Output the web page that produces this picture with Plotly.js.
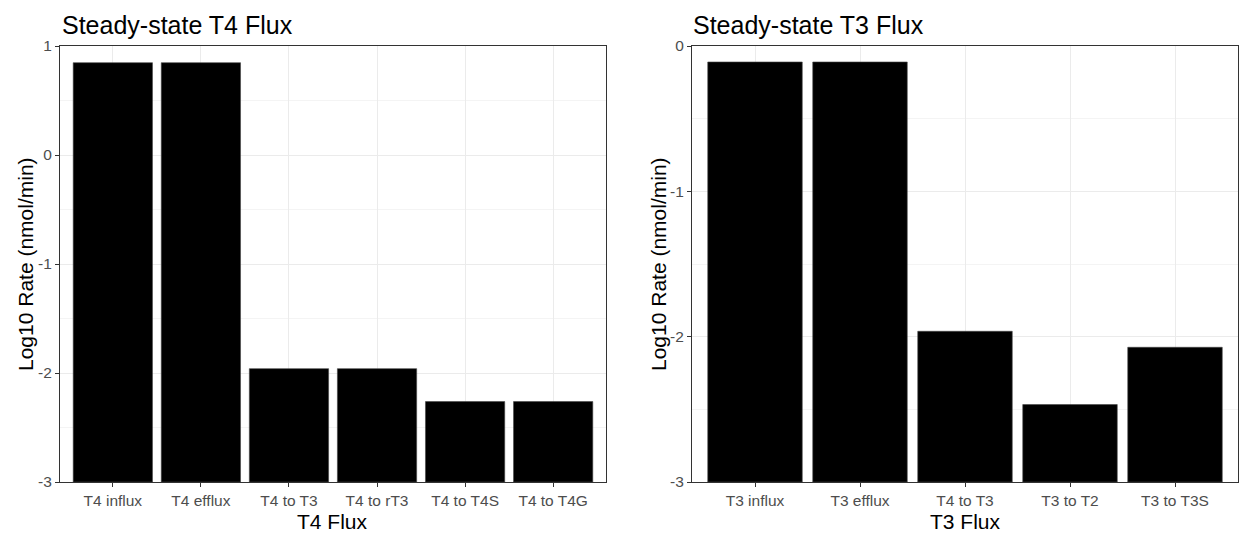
<!DOCTYPE html>
<html><head><meta charset="utf-8">
<script src="https://cdn.plot.ly/plotly-3.0.1.min.js"></script>
<style>html,body{margin:0;padding:0;background:#fff}#chart{width:1239px;height:533px}</style>
</head><body><div id="chart"></div>
<script>
const t4Categories = ["T4 influx","T4 efflux","T4 to T3","T4 to rT3","T4 to T4S","T4 to T4G"];
const t4Log10Rate = [0.847, 0.847, -1.96, -1.96, -2.262, -2.262];
const t3Categories = ["T3 influx","T3 efflux","T4 to T3","T3 to T2","T3 to T3S"];
const t3Log10Rate = [-0.11, -0.11, -1.963, -2.467, -2.073];
const t4Ticks = [1, 0, -1, -2, -3];
const t3Ticks = [0, -1, -2, -3];
const axisFloor = -3;

const FONT = "Liberation Sans, Arial, sans-serif";
const tickFont = {family: FONT, size: 15.5, color: "#4d4d4d"};
const titleFont = {family: FONT, size: 21, color: "#000"};

const traces = [
  {type: "bar", x: t4Categories, y: t4Log10Rate.map(v => v - axisFloor), base: axisFloor,
   marker: {color: "#000", line: {color: "#444", width: 0.6}}, width: 0.9, xaxis: "x", yaxis: "y", hoverinfo: "x+text",
   text: t4Log10Rate.map(String), textposition: "none"},
  {type: "bar", x: t3Categories, y: t3Log10Rate.map(v => v - axisFloor), base: axisFloor,
   marker: {color: "#000", line: {color: "#444", width: 0.6}}, width: 0.9, xaxis: "x2", yaxis: "y2", hoverinfo: "x+text",
   text: t3Log10Rate.map(String), textposition: "none"}
];

function xax(domain, cats) {
  return {domain: domain, range: [-0.6, cats.length - 0.4], type: "category",
    showgrid: true, gridcolor: "#ebebeb", gridwidth: 1,
    showline: true, linecolor: "#333", linewidth: 1, mirror: true,
    ticks: "outside", ticklen: 4, tickcolor: "#333", tickfont: tickFont, zeroline: false, fixedrange: true};
}
function yax(domain, range, ticks, anchor) {
  return {domain: domain, range: range, tickvals: ticks, ticktext: ticks.map(String), anchor: anchor,
    showgrid: true, gridcolor: "#ebebeb", gridwidth: 1,
    minor: {dtick: 0.5, showgrid: true, gridcolor: "#f4f4f4", gridwidth: 1, ticks: ""},
    showline: true, linecolor: "#333", linewidth: 1, mirror: true,
    ticks: "outside", ticklen: 4, tickcolor: "#333", tickfont: tickFont, zeroline: false, fixedrange: true};
}
const yd = [51/533, 487/533];
const layout = {
  width: 1239, height: 533, margin: {l: 0, r: 0, t: 0, b: 0},
  paper_bgcolor: "#fff", plot_bgcolor: "#fff", showlegend: false, bargap: 0.1,
  xaxis: Object.assign(xax([60/1239, 606/1239], t4Categories), {anchor: "y"}),
  yaxis: yax(yd, [-3, 1], t4Ticks, "x"),
  xaxis2: Object.assign(xax([692/1239, 1238/1239], t3Categories), {anchor: "y2"}),
  yaxis2: yax(yd, [-3, 0], t3Ticks, "x2"),
  annotations: [
    {text: "Steady-state T4 Flux", xref: "paper", yref: "paper", x: 60/1239, y: 1 - 25/533, xanchor: "left", yanchor: "middle", showarrow: false, font: {family: FONT, size: 25, color: "#000"}},
    {text: "Steady-state T3 Flux", xref: "paper", yref: "paper", x: 691/1239, y: 1 - 25/533, xanchor: "left", yanchor: "middle", showarrow: false, font: {family: FONT, size: 25, color: "#000"}},
    {text: "T4 Flux", xref: "paper", yref: "paper", x: 333/1239, y: 1 - 521/533, xanchor: "center", yanchor: "middle", showarrow: false, font: titleFont},
    {text: "T3 Flux", xref: "paper", yref: "paper", x: 965/1239, y: 1 - 521/533, xanchor: "center", yanchor: "middle", showarrow: false, font: titleFont},
    {text: "Log10 Rate (nmol/min)", xref: "paper", yref: "paper", x: 25/1239, y: 1 - 264/533, textangle: -90, xanchor: "center", yanchor: "middle", showarrow: false, font: titleFont},
    {text: "Log10 Rate (nmol/min)", xref: "paper", yref: "paper", x: 658/1239, y: 1 - 264/533, textangle: -90, xanchor: "center", yanchor: "middle", showarrow: false, font: titleFont}
  ]
};
Plotly.newPlot("chart", traces, layout, {displayModeBar: false, staticPlot: true});
</script></body></html>
